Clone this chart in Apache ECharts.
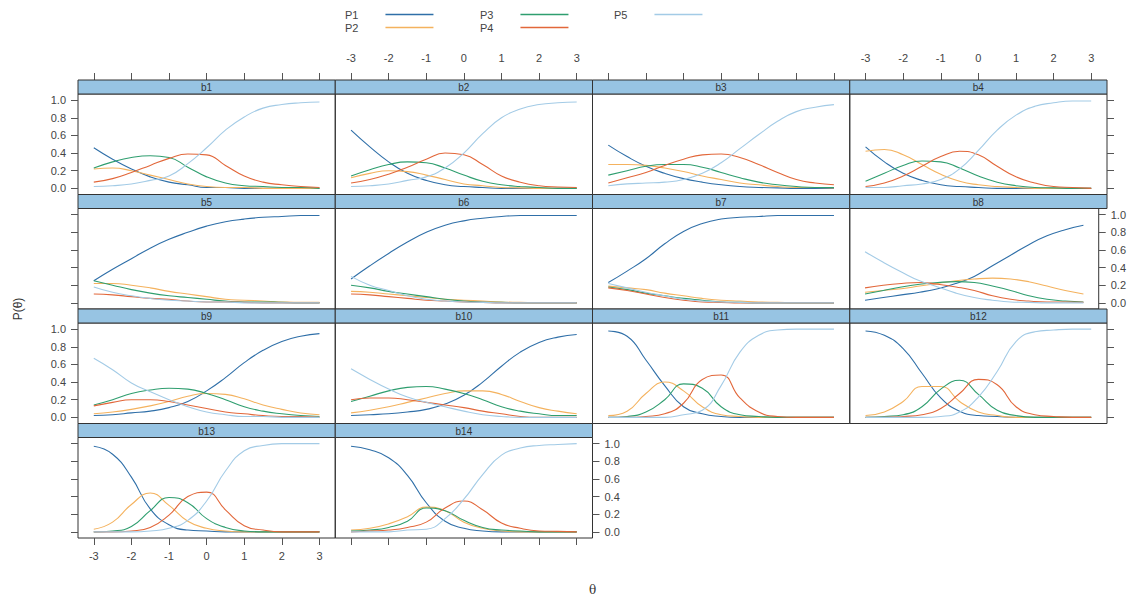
<!DOCTYPE html>
<html>
<head>
<meta charset="utf-8">
<script src="https://cdn.jsdelivr.net/npm/echarts@6/dist/echarts.min.js"></script>
<style>
html,body{margin:0;padding:0;background:#fff;}
#chart{width:1129px;height:605px;}
</style>
</head>
<body>
<div id="chart"></div>
<script>
// ---- data ----
const thetas = [-3, -2.5, -2, -1.5, -1, -0.5, 0, 0.5, 1, 1.5, 2, 2.5, 3];
const categories = ['P1', 'P2', 'P3', 'P4', 'P5'];
const panelNames = ['b1','b2','b3','b4','b5','b6','b7','b8','b9','b10','b11','b12','b13','b14'];
const xTicks = [-3, -2, -1, 0, 1, 2, 3];
const yTicks = [0, 0.2, 0.4, 0.6, 0.8, 1.0];

const b1 = [
  [0.46,0.33,0.22,0.13,0.07,0.04,0.01,0.01,0,0,0,0,0],
  [0.22,0.23,0.20,0.15,0.10,0.05,0.02,0.01,0.01,0,0,0,0],
  [0.23,0.30,0.35,0.37,0.35,0.24,0.13,0.06,0.03,0.02,0.01,0.01,0],
  [0.07,0.11,0.18,0.26,0.34,0.39,0.38,0.26,0.14,0.07,0.04,0.02,0.01],
  [0.02,0.03,0.05,0.09,0.14,0.28,0.46,0.66,0.81,0.91,0.95,0.97,0.98]
];
const b2 = [
  [0.66,0.47,0.30,0.17,0.09,0.04,0.02,0.01,0,0,0,0,0],
  [0.12,0.17,0.20,0.19,0.15,0.10,0.05,0.03,0.01,0.005,0,0,0],
  [0.14,0.21,0.27,0.30,0.29,0.23,0.15,0.08,0.04,0.02,0.01,0,0],
  [0.06,0.10,0.16,0.24,0.33,0.40,0.38,0.27,0.14,0.07,0.03,0.015,0.01],
  [0.02,0.03,0.05,0.09,0.13,0.23,0.40,0.62,0.80,0.90,0.95,0.97,0.98]
];
const b3 = [
  [0.49,0.36,0.25,0.17,0.11,0.07,0.04,0.02,0.01,0.005,0,0,0],
  [0.27,0.27,0.26,0.23,0.19,0.14,0.10,0.06,0.04,0.02,0.01,0.01,0.005],
  [0.15,0.20,0.25,0.27,0.27,0.24,0.18,0.12,0.07,0.04,0.02,0.01,0.01],
  [0.06,0.12,0.18,0.26,0.33,0.38,0.39,0.35,0.27,0.18,0.10,0.06,0.04],
  [0.03,0.05,0.06,0.07,0.10,0.17,0.29,0.45,0.61,0.76,0.87,0.92,0.95]
];
const b4 = [
  [0.47,0.30,0.17,0.09,0.04,0.02,0.01,0,0,0,0,0,0],
  [0.42,0.44,0.38,0.27,0.16,0.08,0.04,0.02,0.01,0,0,0,0],
  [0.08,0.17,0.26,0.31,0.30,0.23,0.14,0.07,0.03,0.01,0.005,0,0],
  [0.02,0.06,0.14,0.25,0.36,0.42,0.38,0.25,0.13,0.06,0.02,0.01,0],
  [0.01,0.01,0.03,0.05,0.10,0.22,0.43,0.66,0.83,0.93,0.97,0.99,0.99]
];
const b5 = [
  [0.25,0.38,0.50,0.62,0.72,0.80,0.87,0.92,0.95,0.97,0.98,0.99,0.99],
  [0.22,0.22,0.20,0.17,0.13,0.10,0.07,0.04,0.03,0.02,0.01,0.005,0.005],
  [0.25,0.20,0.15,0.11,0.08,0.06,0.04,0.02,0.01,0.01,0.005,0,0],
  [0.10,0.09,0.07,0.05,0.04,0.02,0.01,0.01,0.005,0,0,0,0],
  [0.18,0.12,0.08,0.05,0.03,0.02,0.01,0.01,0,0,0,0,0]
];
const b6 = [
  [0.27,0.42,0.56,0.69,0.80,0.88,0.93,0.96,0.98,0.99,0.99,0.99,0.99],
  [0.13,0.12,0.10,0.08,0.06,0.04,0.03,0.02,0.01,0.005,0,0,0],
  [0.20,0.17,0.13,0.10,0.07,0.04,0.02,0.01,0.005,0,0,0,0],
  [0.10,0.09,0.07,0.05,0.03,0.02,0.01,0.005,0,0,0,0,0],
  [0.30,0.20,0.14,0.08,0.04,0.02,0.01,0.005,0,0,0,0,0]
];
const b7 = [
  [0.23,0.36,0.50,0.67,0.81,0.90,0.95,0.97,0.98,0.99,0.99,0.99,0.99],
  [0.19,0.17,0.15,0.11,0.08,0.05,0.03,0.02,0.01,0.005,0,0,0],
  [0.18,0.15,0.11,0.08,0.05,0.03,0.01,0.005,0,0,0,0,0],
  [0.17,0.14,0.10,0.06,0.03,0.01,0.005,0,0,0,0,0,0],
  [0.22,0.17,0.12,0.08,0.04,0.02,0.01,0.005,0,0,0,0,0]
];
const b8 = [
  [0.03,0.06,0.09,0.12,0.16,0.22,0.30,0.42,0.54,0.66,0.76,0.83,0.88],
  [0.12,0.14,0.16,0.19,0.22,0.25,0.27,0.28,0.27,0.24,0.19,0.14,0.10],
  [0.10,0.14,0.18,0.21,0.23,0.24,0.23,0.19,0.14,0.08,0.04,0.02,0.01],
  [0.17,0.20,0.22,0.23,0.21,0.18,0.14,0.08,0.04,0.02,0.01,0.01,0.005],
  [0.58,0.46,0.35,0.25,0.18,0.11,0.06,0.03,0.01,0.005,0,0,0]
];
const b9 = [
  [0.02,0.03,0.05,0.07,0.11,0.18,0.30,0.45,0.62,0.76,0.86,0.92,0.95],
  [0.04,0.06,0.09,0.13,0.18,0.24,0.27,0.26,0.21,0.14,0.09,0.05,0.03],
  [0.14,0.20,0.27,0.31,0.33,0.32,0.27,0.20,0.12,0.07,0.04,0.02,0.01],
  [0.13,0.17,0.20,0.20,0.18,0.14,0.10,0.06,0.04,0.02,0.01,0.01,0],
  [0.67,0.54,0.39,0.29,0.20,0.12,0.06,0.03,0.01,0.01,0,0,0]
];
const b10 = [
  [0.02,0.03,0.04,0.06,0.09,0.15,0.25,0.40,0.58,0.74,0.85,0.91,0.94],
  [0.05,0.08,0.12,0.17,0.22,0.27,0.30,0.30,0.26,0.18,0.11,0.07,0.04],
  [0.18,0.24,0.30,0.34,0.35,0.32,0.27,0.20,0.12,0.07,0.04,0.02,0.02],
  [0.20,0.22,0.22,0.20,0.17,0.14,0.11,0.07,0.04,0.01,0,0,0],
  [0.55,0.43,0.32,0.23,0.17,0.12,0.07,0.03,0.01,0,0,0,0]
];
const b11 = [
  [0.98,0.92,0.65,0.36,0.12,0.04,0.01,0,0,0,0,0,0],
  [0.02,0.07,0.27,0.40,0.30,0.12,0.03,0.01,0,0,0,0,0],
  [0,0.01,0.06,0.20,0.38,0.33,0.12,0.03,0.01,0,0,0,0],
  [0,0,0.01,0.04,0.16,0.43,0.48,0.22,0.06,0.01,0,0,0],
  [0,0,0,0,0.03,0.08,0.36,0.74,0.93,0.99,1,1,1]
];
const b12 = [
  [0.98,0.93,0.78,0.50,0.22,0.07,0.02,0.01,0,0,0,0,0],
  [0.02,0.06,0.18,0.35,0.35,0.18,0.06,0.02,0,0,0,0,0],
  [0,0.01,0.03,0.12,0.32,0.42,0.26,0.08,0.02,0,0,0,0],
  [0,0,0.01,0.03,0.10,0.27,0.43,0.37,0.12,0.03,0.01,0,0],
  [0,0,0,0,0.01,0.06,0.23,0.52,0.86,0.97,0.99,1,1]
];
const b13 = [
  [0.97,0.88,0.62,0.26,0.08,0.02,0.01,0,0,0,0,0,0],
  [0.03,0.11,0.31,0.44,0.30,0.12,0.04,0.01,0,0,0,0,0],
  [0,0.01,0.06,0.24,0.39,0.33,0.15,0.05,0.01,0,0,0,0],
  [0,0,0.01,0.05,0.19,0.40,0.45,0.25,0.07,0.02,0,0,0],
  [0,0,0,0.01,0.04,0.13,0.35,0.69,0.92,0.98,1,1,1]
];
const b14 = [
  [0.97,0.93,0.84,0.64,0.33,0.12,0.04,0.01,0,0,0,0,0],
  [0.02,0.04,0.09,0.17,0.28,0.24,0.11,0.04,0.01,0,0,0,0],
  [0.01,0.02,0.05,0.12,0.27,0.24,0.13,0.05,0.02,0.01,0,0,0],
  [0,0.01,0.02,0.05,0.11,0.27,0.35,0.25,0.10,0.04,0.01,0.005,0],
  [0,0,0,0.02,0.03,0.15,0.37,0.65,0.87,0.95,0.98,0.99,1]
];
const panels = [b1,b2,b3,b4,b5,b6,b7,b8,b9,b10,b11,b12,b13,b14];

// ---- styling / layout ----
const colors = ['#2f6fa8', '#f4b25e', '#2f9e6f', '#e2673a', '#a3cbe6'];
const L = 78, W = 257.25, T = 80, RH = 114.5, SH = 14;
const XMIN = -3.42, XMAX = 3.42, YMIN = -0.07, YMAX = 1.07;
const FONT = 'Liberation Sans, Arial, sans-serif';
const tickColor = '#555', labelColor = '#444';

const grids = [], xAxes = [], yAxes = [], series = [], graphics = [];

function rect(i) {
  const r = Math.floor(i / 4), c = i % 4;
  return { r, c, left: L + c * W, stripTop: T + r * RH, top: T + r * RH + SH, width: W, height: RH - SH };
}

const xLabelFmt = v => String(Math.round(v));
const yLabelFmt = v => v.toFixed(1);
const noLine = { show: false, onZero: false };

panels.forEach((p, i) => {
  const g = rect(i);
  grids.push({ left: g.left, top: g.top, width: g.width, height: g.height,
               show: true, borderColor: '#333', borderWidth: 1, backgroundColor: 'transparent', containLabel: false });
  const bottomTicks = (i === 12 || i === 13);
  const bottomLabels = (i === 12);
  xAxes.push({
    type: 'value', gridIndex: i, min: XMIN, max: XMAX, position: 'bottom',
    axisLine: noLine, splitLine: { show: false },
    axisTick: { show: bottomTicks, length: 7, customValues: xTicks, lineStyle: { color: tickColor } },
    axisLabel: { show: bottomLabels, customValues: xTicks, formatter: xLabelFmt, margin: 12,
                 color: labelColor, fontSize: 11, fontFamily: FONT }
  });
  const leftCol = g.c === 0;
  const leftLabels = leftCol && (g.r === 0 || g.r === 2);
  yAxes.push({
    type: 'value', gridIndex: i, min: YMIN, max: YMAX, position: 'left',
    axisLine: noLine, splitLine: { show: false },
    axisTick: { show: leftCol, length: 7, customValues: yTicks, lineStyle: { color: tickColor } },
    axisLabel: { show: leftLabels, customValues: yTicks, formatter: yLabelFmt, margin: 12,
                 color: labelColor, fontSize: 11, fontFamily: FONT }
  });
  categories.forEach((name, k) => {
    series.push({
      type: 'line', name, xAxisIndex: i, yAxisIndex: i,
      data: thetas.map((t, j) => [t, p[k][j]]),
      smooth: 0.5, symbol: 'none', silent: true,
      lineStyle: { width: 1.1, color: colors[k] }, itemStyle: { color: colors[k] }
    });
  });
  // strip
  graphics.push({ type: 'rect', shape: { x: g.left, y: g.stripTop, width: g.width, height: SH },
                  style: { fill: '#97c4e3', stroke: '#333', lineWidth: 1 }, z: 10 });
  graphics.push({ type: 'text', x: g.left + g.width / 2, y: g.stripTop + SH / 2 + 0.5, z: 11,
                  style: { text: panelNames[i], textAlign: 'center', textVerticalAlign: 'middle',
                           fontSize: 10, fill: '#333', fontFamily: FONT } });
});

// top axes (above the strips of the first row)
for (let c = 0; c < 4; c++) {
  const gi = grids.length;
  grids.push({ left: L + c * W, top: T, width: W, height: RH, show: false });
  xAxes.push({
    type: 'value', gridIndex: gi, min: XMIN, max: XMAX, position: 'top',
    axisLine: noLine, splitLine: { show: false },
    axisTick: { show: true, length: 7, customValues: xTicks, lineStyle: { color: tickColor } },
    axisLabel: { show: (c === 1 || c === 3), customValues: xTicks, formatter: xLabelFmt, margin: 17,
                 color: labelColor, fontSize: 11, fontFamily: FONT }
  });
  yAxes.push({ type: 'value', gridIndex: gi, min: 0, max: 1, show: false });
}

// right axes
[[3, false], [7, true], [11, false], [13, true]].forEach(([i, lab]) => {
  yAxes.push({
    type: 'value', gridIndex: i, min: YMIN, max: YMAX, position: 'right',
    axisLine: noLine, splitLine: { show: false },
    axisTick: { show: true, length: 7, customValues: yTicks, lineStyle: { color: tickColor } },
    axisLabel: { show: lab, customValues: yTicks, formatter: yLabelFmt, margin: 12,
                 color: labelColor, fontSize: 11, fontFamily: FONT }
  });
});

// axis titles
graphics.push({ type: 'text', x: 18, y: T + 2 * RH, rotation: Math.PI / 2,
                style: { text: 'P(θ)', textAlign: 'center', textVerticalAlign: 'middle',
                         fontSize: 12, fill: '#333', fontFamily: FONT } });
graphics.push({ type: 'text', x: L + 2 * W, y: 590,
                style: { text: 'θ', textAlign: 'center', textVerticalAlign: 'middle',
                         fontSize: 12, fill: '#333', fontFamily: 'DejaVu Serif, serif' } });

const legendBase = {
  orient: 'vertical', top: 4, align: 'right', icon: 'rect', itemWidth: 48, itemHeight: 1.5, itemGap: 2,
  textStyle: { fontSize: 11, color: '#444', fontFamily: FONT, padding: [0, 22, 0, 0] },
  selectedMode: false
};
const legends = [
  Object.assign({}, legendBase, { left: 340, data: ['P1', 'P2'] }),
  Object.assign({}, legendBase, { left: 475, data: ['P3', 'P4'] }),
  Object.assign({}, legendBase, { left: 609, data: ['P5'] })
];

const chart = echarts.init(document.getElementById('chart'), null, { renderer: 'svg' });
chart.setOption({
  animation: false,
  backgroundColor: '#fff',
  color: colors,
  legend: legends,
  grid: grids,
  xAxis: xAxes,
  yAxis: yAxes,
  series: series,
  graphic: graphics
});
</script>
</body>
</html>
